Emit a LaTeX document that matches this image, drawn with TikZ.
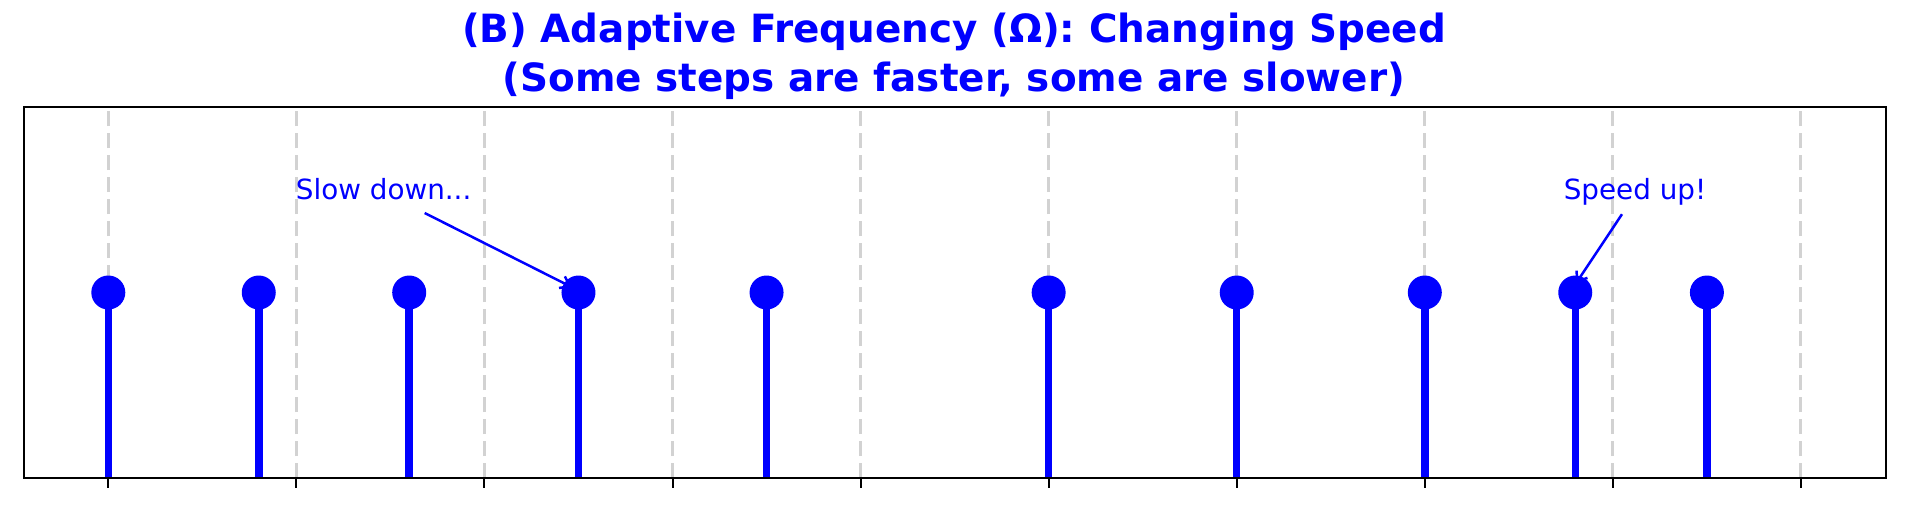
\documentclass[tikz,border=0pt]{standalone}
\usepackage{fontspec}
\setmainfont{DejaVu Sans}
\usetikzlibrary{arrows.meta,calc}
\definecolor{mplblue}{RGB}{0,0,255}
\definecolor{gridgray}{RGB}{210,210,210}
\begin{document}
\begin{tikzpicture}[x=1pt,y=-1pt,
  stemline/.style={draw=mplblue,line width=7.5pt},
  dot/.style={circle,fill=mplblue,minimum size=34pt,inner sep=0pt},
  gridline/.style={draw=gridgray,line width=3pt,dash pattern=on 15pt off 7pt},
  frame/.style={draw=black,line width=2pt},
  tickmark/.style={draw=black,line width=2pt},
  annot/.style={text=mplblue,font=\fontsize{27.8}{33}\selectfont,inner sep=0pt},
  annarrow/.style={draw=mplblue,line width=2.5pt,-{Straight Barb[length=9pt,width=13pt]}},
  titletext/.style={text=mplblue,font=\fontsize{38.9}{46}\selectfont\bfseries,inner sep=0pt}
]
\useasboundingbox (0,0) rectangle (1908,512);
% grid and ticks
\foreach \i in {0,...,9} {
  \pgfmathsetmacro\gx{108.3+188.07*\i}
  \coordinate (gt\i) at (\gx,107);
  \coordinate (gb\i) at (\gx,478);
  \coordinate (tk\i) at (\gx,488);
  \draw[gridline] (gb\i) -- (gt\i);
  \draw[tickmark] (gb\i) -- (tk\i);
}
% stems
\foreach \u [count=\k] in {0,0.8,1.6,2.5,3.5,5,6,7,7.8,8.5} {
  \pgfmathsetmacro\sx{108.3+188.07*\u}
  \coordinate (b\k) at (\sx,478);
  \coordinate (t\k) at (\sx,292.5);
  \draw[stemline] (b\k) -- (t\k);
  \node[dot] (s\k) at (t\k) {};
}
% frame
\coordinate (fa) at (23.7,107);
\coordinate (fb) at (1885.6,478);
\draw[frame] (fa) rectangle (fb);
% annotations
\node[annot,anchor=base west] (slow) at (295.7,199.8) {Slow down...};
\coordinate (slowtail) at (424.7,213);
\coordinate (slowtip) at ($(s4.center)+(-6.6,-5.3)$);
\draw[annarrow] (slowtail) -- (slowtip);
\node[annot,anchor=base west] (speed) at (1563.6,199.8) {Speed up!};
\coordinate (speedtail) at (1622,214.2);
\coordinate (speedtip) at ($(s9.center)+(0.6,-9)$);
\draw[annarrow] (speedtail) -- (speedtip);
% title
\node[titletext,anchor=base] (title1) at (954,42) {(B) Adaptive Frequency (Ω): Changing Speed};
\node[titletext,anchor=base] (title2) at (954,91) {(Some steps are faster, some are slower)};
\end{tikzpicture}
\end{document}
